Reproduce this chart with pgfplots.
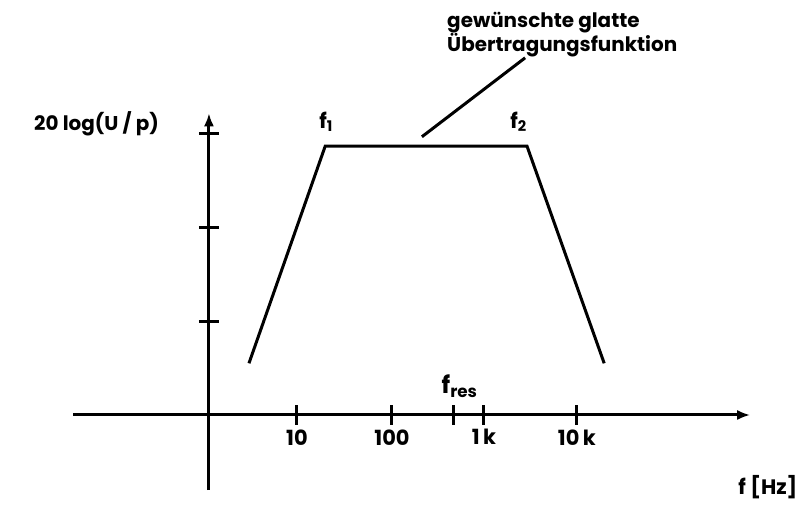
\documentclass[border=0pt]{standalone}
\usepackage{pgfplots}
\pgfplotsset{compat=1.18}
\usetikzlibrary{arrows.meta}
\usepackage{fontspec}
\setmainfont{Poppins}

\begin{document}
\begin{tikzpicture}
\begin{axis}[
  x=93bp, y=94bp,
  axis lines=middle,
  xmin=-1.46, xmax=5.82,
  ymin=-0.80, ymax=3.21,
  axis line style={line width=3bp, -{Latex[length=13bp,width=10bp]}},
  clip=false,
  xtick={0.946,1.968,2.63,2.957,3.957},
  xticklabels={10,100,,1\,k,10\,k},
  ytick={1,2,3},
  yticklabels={},
  tick align=center,
  major tick length=20bp,
  tick style={line width=3bp, black},
  xticklabel style={font=\fontsize{21}{24}\selectfont\bfseries, yshift=-1bp},
  /pgf/number format/assume math mode=true,
]
% Band-pass transfer function: rising slope, flat passband f1..f2, falling slope
\addplot[line width=3bp, black] coordinates {
  (0.43,0.55) (1.25,2.86) (3.42,2.86) (4.25,0.55)
};
% Pointer to the passband
\addplot[line width=3bp, black] coordinates {(2.29,2.96) (3.40,3.80)};

\node[anchor=east, font=\fontsize{20}{24}\selectfont\bfseries] at (axis cs:-0.50,3.10) {20 log(U / p)};
\node[font=\fontsize{21}{24}\selectfont\bfseries] at (axis cs:1.26,3.12) {f\textsubscript{1}};
\node[font=\fontsize{21}{24}\selectfont\bfseries] at (axis cs:3.33,3.12) {f\textsubscript{2}};
\node[anchor=base west, inner sep=0pt, font=\fontsize{24}{26}\selectfont\bfseries] at (axis cs:2.50,0.23) {f\textsubscript{res}};
\node[font=\fontsize{21}{24}\selectfont\bfseries] at (axis cs:6.01,-0.77) {f [Hz]};
\node[anchor=north west, align=left, inner sep=0pt, font=\fontsize{20}{21}\selectfont\bfseries]
  at (axis cs:2.56,4.29) {gewünschte glatte\\Übertragungsfunktion};

% page frame
\path (axis cs:-2.247,4.415) rectangle (axis cs:6.42,-1.096);
\end{axis}
\end{tikzpicture}
\end{document}
